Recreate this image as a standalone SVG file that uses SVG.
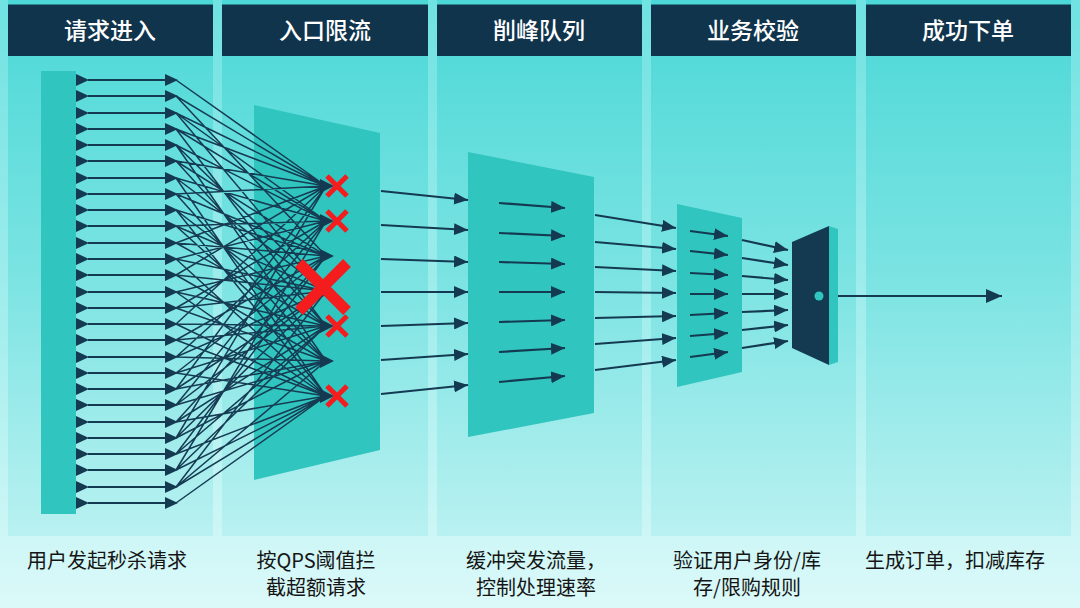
<svg xmlns="http://www.w3.org/2000/svg" width="1080" height="608" viewBox="0 0 1080 608">
<defs>
<linearGradient id="bg" x1="0" y1="0" x2="0" y2="1">
<stop offset="0" stop-color="#6fe2e1"/>
<stop offset="0.55" stop-color="#a6eeee"/>
<stop offset="1" stop-color="#dcf9f9"/>
</linearGradient>
<linearGradient id="pan" gradientUnits="userSpaceOnUse" x1="0" y1="0" x2="0" y2="536">
<stop offset="0" stop-color="#4bd8d7"/>
<stop offset="0.5" stop-color="#79e3e2"/>
<stop offset="1" stop-color="#b9f1f1"/>
</linearGradient>
<marker id="ah" markerUnits="userSpaceOnUse" markerWidth="14" markerHeight="12" refX="14" refY="6" orient="auto">
<path d="M0,0 L14,6 L0,12 z" fill="#143a52"/>
</marker>
<marker id="ahb" markerUnits="userSpaceOnUse" markerWidth="16" markerHeight="14" refX="16" refY="7" orient="auto">
<path d="M0,0 L16,7 L0,14 z" fill="#143a52"/>
</marker>
<style>
.hdr{fill:#10344c}
.ht{font-family:"Noto Sans CJK SC","Noto Sans",sans-serif;font-size:23px;fill:#ffffff;text-anchor:middle;font-weight:500}
.cap{font-family:"Noto Sans CJK SC","Noto Sans",sans-serif;font-size:20px;fill:#151515;text-anchor:middle}
.teal{fill:#30c5bf}
.navy{fill:#143a52}
.ln{stroke:#143a52;stroke-width:2.2;fill:none}
.mesh{stroke:#163c54;stroke-width:1.5;fill:none}
.arr{stroke:#143a52;stroke-width:2.2;fill:none;marker-end:url(#ah)}
.rx{stroke:#f41c1c;stroke-width:5;stroke-linecap:butt}
.rxb{stroke:#f41c1c;stroke-width:11;stroke-linecap:butt}
</style>
</defs>

<rect x="0" y="0" width="1080" height="608" fill="url(#bg)"/>

<g id="columns">
<rect x="8" y="0" width="205" height="536" fill="url(#pan)"/>
<rect x="222" y="0" width="206" height="536" fill="url(#pan)"/>
<rect x="437" y="0" width="205" height="536" fill="url(#pan)"/>
<rect x="651" y="0" width="205" height="536" fill="url(#pan)"/>
<rect x="866" y="0" width="205" height="536" fill="url(#pan)"/>
</g>

<g id="header-1"><rect class="hdr" x="8" y="4.5" width="205" height="51.5"/><text class="ht" x="110" y="39">请求进入</text></g>
<g id="header-2"><rect class="hdr" x="222" y="4.5" width="206" height="51.5"/><text class="ht" x="325" y="39">入口限流</text></g>
<g id="header-3"><rect class="hdr" x="437" y="4.5" width="205" height="51.5"/><text class="ht" x="539" y="39">削峰队列</text></g>
<g id="header-4"><rect class="hdr" x="651" y="4.5" width="205" height="51.5"/><text class="ht" x="753" y="39">业务校验</text></g>
<g id="header-5"><rect class="hdr" x="866" y="4.5" width="205" height="51.5"/><text class="ht" x="968" y="39">成功下单</text></g>

<g id="node-requests">
<rect class="teal" x="41" y="71" width="35" height="443"/>
</g>

<g id="node-ratelimit">
<polygon class="teal" points="254,105 380,133 380,450 254,480"/>
</g>

<g id="node-queue">
<polygon class="teal" points="468,152 594,177 594,413 468,437"/>
</g>

<g id="node-validate">
<polygon class="teal" points="677,204 742,218 742,372 677,387"/>
</g>

<g id="node-order">
<polygon class="teal" points="829,226 838,229 838,362 829,365"/>
<polygon class="navy" points="792,242 829,226 829,365 792,348"/>
<circle cx="819" cy="296" r="4.5" fill="#30c5bf"/>
</g>

<g id="connectors">
<g id="incoming">
<path class="ln" d="M88 80H166M88 96H166M88 113H166M88 129H166M88 145H166M88 161H166M88 178H166M88 194H166M88 210H166M88 226H166M88 243H166M88 259H166M88 275H166M88 292H166M88 308H166M88 324H166M88 340H166M88 357H166M88 373H166M88 389H166M88 405H166M88 422H166M88 438H166M88 454H166M88 470H166M88 487H166M88 503H166"/>
<path class="navy" d="M76 74L89 80L76 86zM76 90L89 96L76 102zM76 107L89 113L76 119zM76 123L89 129L76 135zM76 139L89 145L76 151zM76 155L89 161L76 167zM76 172L89 178L76 184zM76 188L89 194L76 200zM76 204L89 210L76 216zM76 220L89 226L76 232zM76 237L89 243L76 249zM76 253L89 259L76 265zM76 269L89 275L76 281zM76 286L89 292L76 298zM76 302L89 308L76 314zM76 318L89 324L76 330zM76 334L89 340L76 346zM76 351L89 357L76 363zM76 367L89 373L76 379zM76 383L89 389L76 395zM76 399L89 405L76 411zM76 416L89 422L76 428zM76 432L89 438L76 444zM76 448L89 454L76 460zM76 464L89 470L76 476zM76 481L89 487L76 493zM76 497L89 503L76 509z"/>
<path class="navy" d="M165 74L178 80L165 86zM165 90L178 96L165 102zM165 107L178 113L165 119zM165 123L178 129L165 135zM165 139L178 145L165 151zM165 155L178 161L165 167zM165 172L178 178L165 184zM165 188L178 194L165 200zM165 204L178 210L165 216zM165 220L178 226L165 232zM165 237L178 243L165 249zM165 253L178 259L165 265zM165 269L178 275L165 281zM165 286L178 292L165 298zM165 302L178 308L165 314zM165 318L178 324L165 330zM165 334L178 340L165 346zM165 351L178 357L165 363zM165 367L178 373L165 379zM165 383L178 389L165 395zM165 399L178 405L165 411zM165 416L178 422L165 428zM165 432L178 438L165 444zM165 448L178 454L165 460zM165 464L178 470L165 476zM165 481L178 487L165 493zM165 497L178 503L165 509z"/>
</g>
<path id="mesh" class="mesh" d="M176 80L326 186
M176 96L326 186M176 96L326 256
M176 113L326 186M176 113L326 291M176 113L326 221
M176 129L326 221M176 129L326 326M176 129L326 186
M176 145L326 221M176 145L326 291M176 145L326 361
M176 161L326 186M176 161L326 256M176 161L326 326
M176 178L326 221M176 178L326 291M176 178L326 396
M176 194L326 256M176 194L326 361M176 194L326 186
M176 210L326 256M176 210L326 326M176 210L326 396
M176 226L326 221M176 226L326 291M176 226L326 361
M176 243L326 256M176 243L326 326M176 243L326 186
M176 259L326 291M176 259L326 396M176 259L326 221
M176 275L326 291M176 275L326 361M176 275L326 186
M176 292L326 256M176 292L326 326M176 292L326 396
M176 308L326 291M176 308L326 221M176 308L326 361
M176 324L326 326M176 324L326 186M176 324L326 396
M176 340L326 326M176 340L326 256M176 340L326 396
M176 357L326 291M176 357L326 361M176 357L326 221
M176 373L326 326M176 373L326 396M176 373L326 256
M176 389L326 361M176 389L326 186M176 389L326 291
M176 405L326 361M176 405L326 291M176 405L326 221
M176 422L326 326M176 422L326 396M176 422L326 256
M176 438L326 361M176 438L326 291M176 438L326 186
M176 454L326 396M176 454L326 256M176 454L326 326
M176 470L326 396M176 470L326 326M176 470L326 221
M176 487L326 361M176 487L326 396M176 487L326 291
M176 503L326 396"/>
<path class="navy" d="M320 179L334 186L320 193zM320 214L334 221L320 228zM320 249L334 256L320 263zM320 284L334 291L320 298zM320 319L334 326L320 333zM320 354L334 361L320 368zM320 389L334 396L320 403z"/>
<g id="rejects">
<path class="rx" d="M327 176L347 196M347 176L327 196"/>
<path class="rx" d="M327 211L347 231M347 211L327 231"/>
<path class="rx" d="M327 316L347 336M347 316L327 336"/>
<path class="rx" d="M327 386L347 406M347 386L327 406"/>
<path class="rxb" d="M299 263L347 311M347 263L299 311"/>
</g>
<g id="to-queue">
<path class="arr" d="M381 191L468 200"/>
<path class="arr" d="M381 225L468 230"/>
<path class="arr" d="M381 259L468 262"/>
<path class="arr" d="M381 292L468 292"/>
<path class="arr" d="M381 326L468 323"/>
<path class="arr" d="M381 360L468 354"/>
<path class="arr" d="M381 394L468 385"/>
</g>
<g id="in-queue">
<path class="arr" d="M499 203L565 208"/>
<path class="arr" d="M499 233L565 236"/>
<path class="arr" d="M499 262L565 264"/>
<path class="arr" d="M499 292L565 292"/>
<path class="arr" d="M499 322L565 320"/>
<path class="arr" d="M499 352L565 348"/>
<path class="arr" d="M499 382L565 376"/>
</g>
<g id="to-validate">
<path class="arr" d="M595 215L676 228"/>
<path class="arr" d="M595 242L676 249"/>
<path class="arr" d="M595 267L676 271"/>
<path class="arr" d="M595 292L676 293"/>
<path class="arr" d="M595 318L676 316"/>
<path class="arr" d="M595 344L676 338"/>
<path class="arr" d="M595 370L676 360"/>
</g>
<g id="in-validate">
<path class="arr" d="M690 231L728 236"/>
<path class="arr" d="M690 251L728 255"/>
<path class="arr" d="M690 273L728 275"/>
<path class="arr" d="M690 294L728 294"/>
<path class="arr" d="M690 315L728 313"/>
<path class="arr" d="M690 336L728 333"/>
<path class="arr" d="M690 357L728 352"/>
</g>
<g id="to-order">
<path class="arr" d="M742 240L788 250"/>
<path class="arr" d="M742 258L788 265"/>
<path class="arr" d="M742 276L788 280"/>
<path class="arr" d="M742 294L788 294"/>
<path class="arr" d="M742 312L788 310"/>
<path class="arr" d="M742 330L788 325"/>
<path class="arr" d="M742 348L788 341"/>
</g>
<path id="output" d="M838 296L1002 296" stroke="#143a52" stroke-width="2" fill="none" marker-end="url(#ahb)"/>
</g>

<g id="caption-1"><text class="cap" x="107" y="568">用户发起秒杀请求</text></g>
<g id="caption-2"><text class="cap" x="316" y="568">按QPS阈值拦</text><text class="cap" x="316" y="595">截超额请求</text></g>
<g id="caption-3"><text class="cap" x="536" y="568">缓冲突发流量，</text><text class="cap" x="536" y="595">控制处理速率</text></g>
<g id="caption-4"><text class="cap" x="747" y="568">验证用户身份/库</text><text class="cap" x="747" y="595">存/限购规则</text></g>
<g id="caption-5"><text class="cap" x="955" y="568">生成订单，扣减库存</text></g>
</svg>
